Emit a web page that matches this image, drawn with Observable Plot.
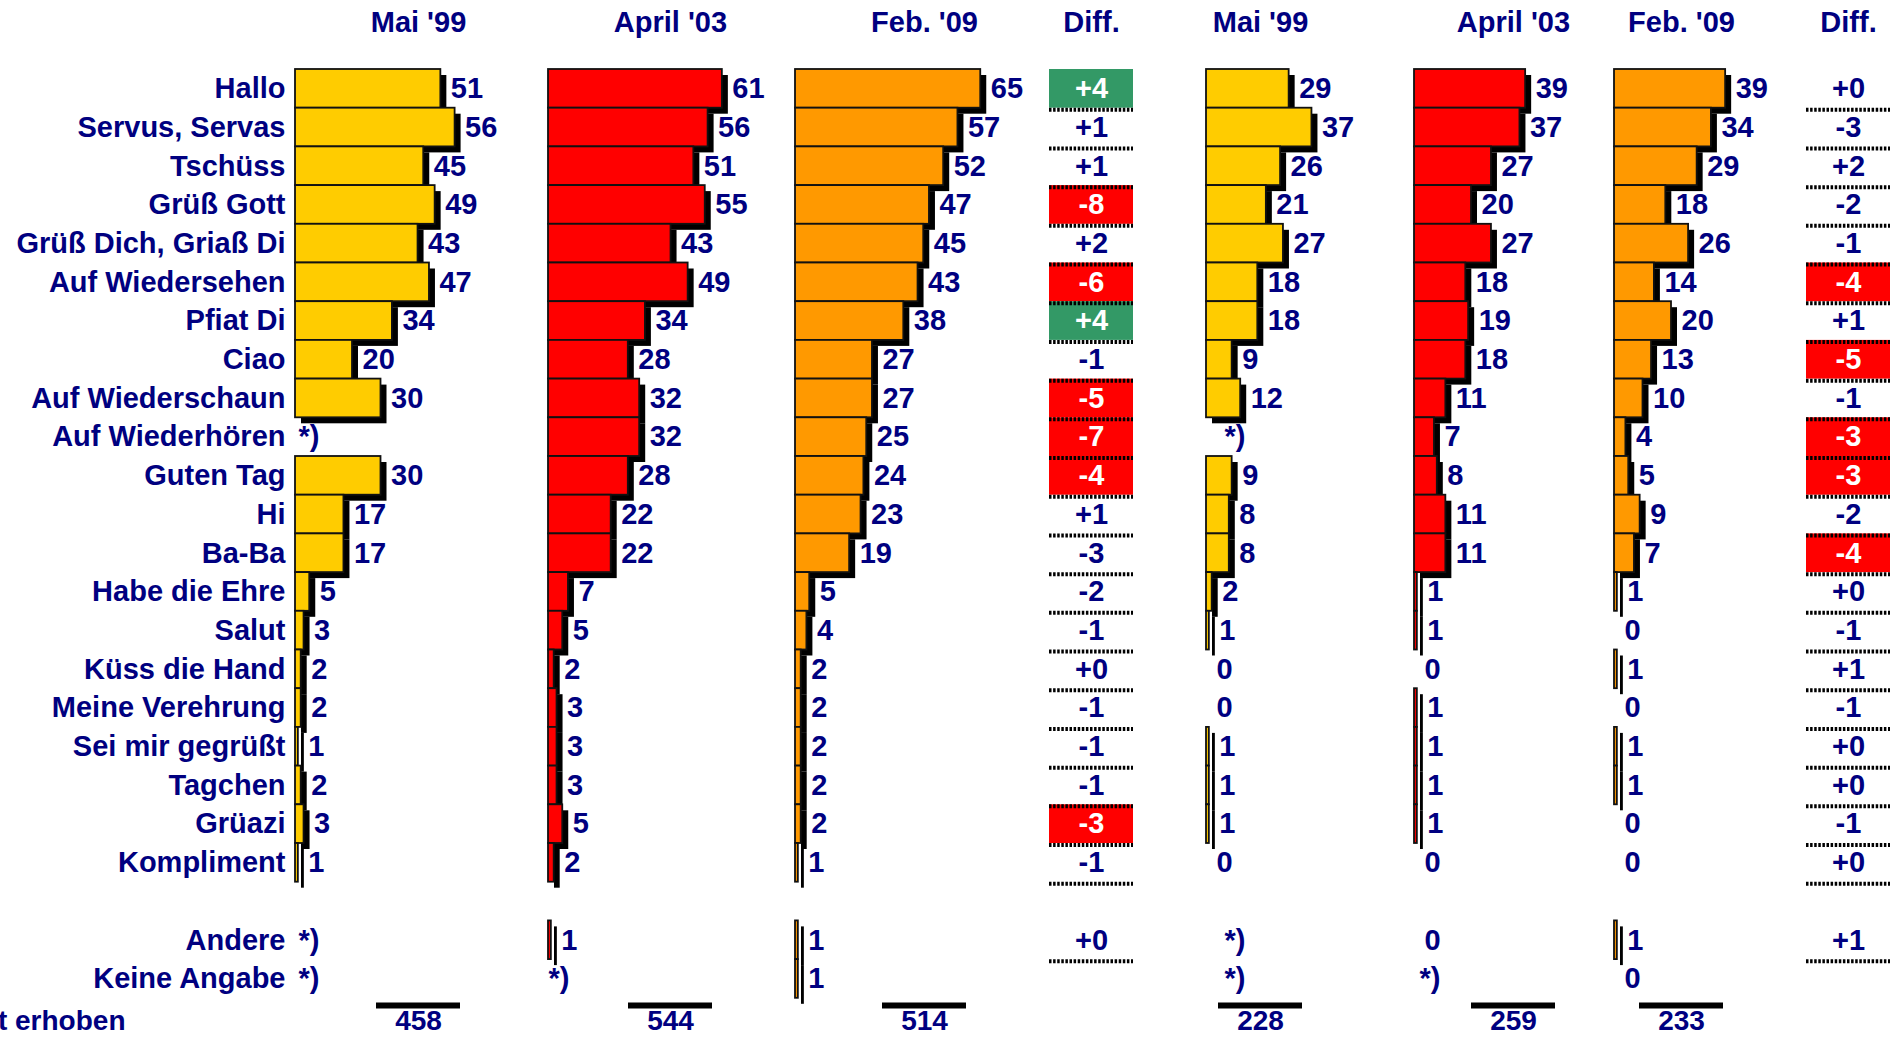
<!DOCTYPE html>
<html>
<head>
<meta charset="utf-8">
<script src="https://cdn.jsdelivr.net/npm/d3@7"></script>
<script src="https://cdn.jsdelivr.net/npm/@observablehq/plot@0.6"></script>
<style>
  html, body { margin: 0; padding: 0; background: #fff; }
  #chart svg { display: block; }
</style>
</head>
<body>
<div id="chart"></div>
<script>
// ---------------- data ----------------
const rowLabels = ["Hallo","Servus, Servas","Tschüss","Grüß Gott","Grüß Dich, Griaß Di","Auf Wiedersehen","Pfiat Di","Ciao","Auf Wiederschaun","Auf Wiederhören","Guten Tag","Hi","Ba-Ba","Habe die Ehre","Salut","Küss die Hand","Meine Verehrung","Sei mir gegrüßt","Tagchen","Grüazi","Kompliment","Andere","Keine Angabe"];
const periodLabels = ["Mai '99","April '03","Feb. '09"];
const diffLabel = "Diff.";
// left block
const mai99A  = [51,56,45,49,43,47,34,20,30,null,30,17,17,5,3,2,2,1,2,3,1,null,null];
const apr03A  = [61,56,51,55,43,49,34,28,32,32,28,22,22,7,5,2,3,3,3,5,2,1,null];
const feb09A  = [65,57,52,47,45,43,38,27,27,25,24,23,19,5,4,2,2,2,2,2,1,1,1];
const diffA   = [4,1,1,-8,2,-6,4,-1,-5,-7,-4,1,-3,-2,-1,0,-1,-1,-1,-3,-1,0,null];
const signifA = ["up","","","down","","down","up","","down","down","down","","","","","","","","","down","","",""];
// right block
const mai99B  = [29,37,26,21,27,18,18,9,12,null,9,8,8,2,1,0,0,1,1,1,0,null,null];
const apr03B  = [39,37,27,20,27,18,19,18,11,7,8,11,11,1,1,0,1,1,1,1,0,0,null];
const feb09B  = [39,34,29,18,26,14,20,13,10,4,5,9,7,1,0,1,0,1,1,0,0,1,0];
const diffB   = [0,-3,2,-2,-1,-4,1,-5,-1,-3,-3,-2,-4,0,-1,1,-1,0,0,-1,0,1,null];
const signifB = ["","","","","","down","","down","","down","down","","down","","","","","","","","","",""];
const totals  = [458,544,514,228,259,233];
const missingMark = "*)";
const footnote = "*) nicht erhoben";

// ---------------- layout / style ----------------
const W = 1901, H = 1037;
const PX_PER_UNIT = 2.85;           // bar length per percent point
const ROW_PX = 38.7, TOP_PX = 69;   // row height & top of first row
const u = px => px / PX_PER_UNIT;   // pixel layout -> x units
const r = px => (px - TOP_PX) / ROW_PX; // pixel layout -> row units
const navy = "#000080";
const colors = {yellow:"#FFCC00", red:"#FF0000", orange:"#FF9900", up:"#339966", down:"#FF0000"};

const barPanels = [
  {values: mai99A, color: colors.yellow, start: 295,  center: 418,  starDx: 3,  title: periodLabels[0], total: totals[0]},
  {values: apr03A, color: colors.red,    start: 548,  center: 670,  starDx: 0,  title: periodLabels[1], total: totals[1]},
  {values: feb09A, color: colors.orange, start: 795,  center: 924,  starDx: 3,  title: periodLabels[2], total: totals[2]},
  {values: mai99B, color: colors.yellow, start: 1206, center: 1260, starDx: 18, title: periodLabels[0], total: totals[3]},
  {values: apr03B, color: colors.red,    start: 1414, center: 1513, starDx: 5,  title: periodLabels[1], total: totals[4]},
  {values: feb09B, color: colors.orange, start: 1614, center: 1681, starDx: 3,  title: periodLabels[2], total: totals[5]}
];
const diffPanels = [
  {values: diffA, signif: signifA, center: 1091, half: 42},
  {values: diffB, signif: signifB, center: 1848, half: 42}
];

const rows = rowLabels.map((label, i) => ({label, i, pos: i < 21 ? i : i + 1.0}));
const font = {fontSize: 29, fontWeight: "bold", fontFamily: "'Liberation Sans', Arial, Helvetica, sans-serif"};

const shadows = [], bars = [], texts = [];
for (const p of barPanels) {
  const d = rows.map(row => ({...row, v: p.values[row.i]}));
  const withBar = d.filter(e => e.v != null && e.v > 0);
  const off = u(p.start);
  shadows.push(Plot.rect(withBar, {x1: () => off, x2: e => off + e.v, y1: e => e.pos, y2: e => e.pos + 1, fill: "black", dx: 6, dy: 6}));
  bars.push(Plot.rect(withBar, {x1: () => off, x2: e => off + e.v, y1: e => e.pos, y2: e => e.pos + 1, fill: p.color, stroke: "#111", strokeWidth: 1.8}));
  texts.push(Plot.text(d.filter(e => e.v != null), {x: e => off + e.v, y: e => e.pos + 0.5, text: e => String(e.v), textAnchor: "start", dx: 10, fill: navy, ...font}));
  texts.push(Plot.text(d.filter(e => e.v == null), {x: () => off, y: e => e.pos + 0.5, text: () => missingMark, textAnchor: "start", dx: p.starDx, fill: navy, ...font}));
}

const diffMarks = [];
for (const p of diffPanels) {
  const d = rows.map(row => ({...row, v: p.values[row.i], s: p.signif[row.i]})).filter(e => e.v != null);
  const c = u(p.center), h = u(p.half);
  diffMarks.push(Plot.rect(d.filter(e => e.s), {x1: () => c - h, x2: () => c + h, y1: e => e.pos, y2: e => e.pos + 1, fill: e => colors[e.s]}));
  diffMarks.push(Plot.ruleY(d, {y: e => e.pos + 1.04, x1: () => c - h, x2: () => c + h, stroke: "black", strokeWidth: 4, strokeDasharray: "2.5,1.6"}));
  diffMarks.push(Plot.text(d, {x: () => c, y: e => e.pos + 0.5, text: e => (e.v >= 0 ? "+" : "") + e.v, fill: e => e.s ? "white" : navy, ...font}));
}

const titleData = [
  ...barPanels.map(p => ({x: u(p.center), t: p.title})),
  ...diffPanels.map(p => ({x: u(p.center), t: diffLabel}))
];
const totalData = barPanels.map(p => ({x: u(p.center), t: String(p.total)}));

const chart = Plot.plot({
  width: W, height: H,
  marginTop: 0, marginBottom: 0, marginLeft: 0, marginRight: 0,
  x: {type: "linear", domain: [0, u(W)], range: [0, W], axis: null},
  y: {type: "linear", domain: [r(0), r(H)], range: [0, H], axis: null},
  style: {background: "white"},
  marks: [
    ...shadows,
    ...bars,
    ...texts,
    ...diffMarks,
    Plot.text(rows, {x: () => u(295), y: e => e.pos + 0.5, text: "label", textAnchor: "end", dx: -10, fill: navy, ...font}),
    Plot.text(titleData, {x: "x", y: () => r(22), text: "t", fill: navy, ...font}),
    Plot.ruleY(totalData, {y: () => r(1005), x1: e => e.x - u(42), x2: e => e.x + u(42), stroke: "black", strokeWidth: 6}),
    Plot.text(totalData, {x: "x", y: () => r(1021), text: "t", fill: navy, ...font, fontSize: 28}),
    Plot.text([footnote], {x: () => u(125), y: () => r(1021), text: d => d, textAnchor: "end", fill: navy, ...font, fontSize: 28})
  ]
});
document.getElementById("chart").appendChild(chart);
</script>
</body>
</html>
